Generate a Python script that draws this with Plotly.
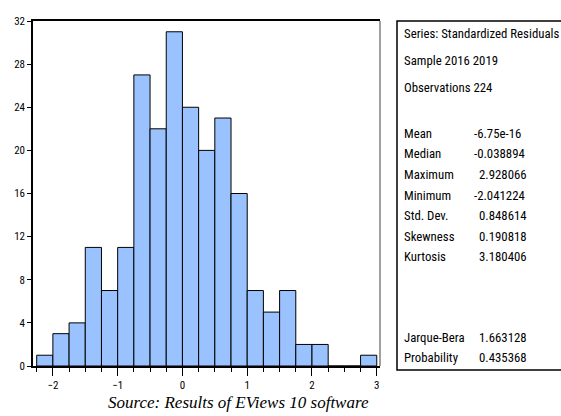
import plotly.graph_objects as go

# Histogram of standardized residuals (bin width 0.25)
bin_left = [-2.25, -2.0, -1.75, -1.5, -1.25, -1.0, -0.75, -0.5, -0.25, 0.0,
            0.25, 0.5, 0.75, 1.0, 1.25, 1.5, 1.75, 2.0, 2.25, 2.5, 2.75]
counts = [1, 3, 4, 11, 7, 11, 27, 22, 31, 24, 20, 23, 16, 7, 5, 7, 2, 2, 0, 0, 1]
bin_width = 0.25

x_ticks = [-2, -1, 0, 1, 2, 3]
y_ticks = [0, 4, 8, 12, 16, 20, 24, 28, 32]

header_lines = ["Series: Standardized Residuals", "Sample 2016 2019", "Observations 224"]
stat_names = ["Mean", "Median", "Maximum", "Minimum", "Std. Dev.", "Skewness", "Kurtosis",
              "Jarque-Bera", "Probability"]
stat_values = ["-6.75e-16", "-0.038894", "2.928066", "-2.041224", "0.848614", "0.190818",
               "3.180406", "1.663128", "0.435368"]
caption = "Source: Results of EViews 10 software"

W, H = 561, 416
L, R, T, B = 33, 380, 21, 366

def px(x):
    return (x - L) / (R - L)

def py(y):
    return (B - y) / (B - T)

FONT = "Roboto Condensed, DejaVu Sans Condensed, Liberation Sans Narrow, Arial Narrow, Liberation Sans, Arial, sans-serif"
TXT = 12.8

centers = [b + bin_width / 2 for b in bin_left]
fig = go.Figure(go.Bar(
    x=centers, y=counts, width=bin_width,
    marker=dict(color="#99C2FF", line=dict(color="black", width=1)),
    hoverinfo="x+y",
))

fig.update_layout(
    width=W, height=H,
    margin=dict(l=L, r=W - R, t=T, b=H - B, autoexpand=False),
    paper_bgcolor="white", plot_bgcolor="white",
    showlegend=False,
    font=dict(family=FONT, size=11, color="black"),
    xaxis=dict(range=[-2.307, 3.05], tickvals=x_ticks, ticks="outside", ticklen=8,
               tickcolor="black", tickwidth=1, showgrid=False, zeroline=False,
               showline=True, linecolor="black", linewidth=1.5, mirror=True,
               automargin=False,
               minor=dict(dtick=bin_width, tick0=0, ticks="outside", ticklen=4,
                          tickcolor="black", tickwidth=1, showgrid=False),
               tickfont=dict(size=11), fixedrange=True),
    yaxis=dict(range=[0, 32], tickvals=y_ticks, ticks="outside", ticklen=4,
               tickcolor="black", showgrid=False, zeroline=False,
               showline=True, linecolor="black", linewidth=1.5,
               automargin=False,
               tickfont=dict(size=11), fixedrange=True),
)

shapes = [
    dict(type="line", xref="paper", yref="paper", x0=1, x1=1, y0=0, y1=1,
         line=dict(color="#808080", width=1.5)),
    dict(type="rect", xref="paper", yref="paper", x0=px(397), x1=px(566), y0=py(370), y1=py(21),
         line=dict(color="black", width=1.5), fillcolor="rgba(0,0,0,0)"),
]

annotations = []
header_y = [33, 60, 87]
for t, y in zip(header_lines, header_y):
    annotations.append(dict(text=t, xref="paper", yref="paper", x=px(402), y=py(y),
                            xanchor="left", yanchor="middle", showarrow=False,
                            font=dict(family=FONT, size=TXT)))
stat_y = [133, 154, 174, 195, 215, 236, 256, 337, 357]
for name, val, y in zip(stat_names, stat_values, stat_y):
    annotations.append(dict(text=name, xref="paper", yref="paper", x=px(402), y=py(y),
                            xanchor="left", yanchor="middle", showarrow=False,
                            font=dict(family=FONT, size=TXT)))
    vx = 472 if val.startswith("-") else 476.5
    annotations.append(dict(text=val, xref="paper", yref="paper", x=px(vx), y=py(y),
                            xanchor="left", yanchor="middle", showarrow=False,
                            font=dict(family=FONT, size=TXT)))

annotations.append(dict(text="<i>" + caption + "</i>", xref="paper", yref="paper",
                        x=px(238), y=py(402), xanchor="center", yanchor="middle",
                        showarrow=False,
                        font=dict(family="Liberation Serif, Times New Roman, serif", size=17)))

fig.update_layout(shapes=shapes, annotations=annotations)
fig.write_html("out.html", config={"displayModeBar": False},
               post_script="document.body.style.margin='0';document.body.style.padding='0';")
